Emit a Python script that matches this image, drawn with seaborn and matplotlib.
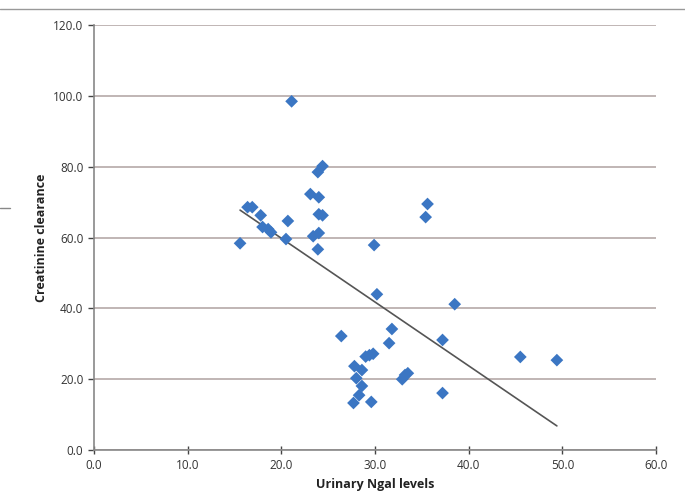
import matplotlib
matplotlib.use("Agg")
import matplotlib.pyplot as plt
import matplotlib.lines as mlines
import seaborn as sns
import pandas as pd

ngal = [15.6, 16.4, 16.9, 17.8, 18.0, 18.6, 18.9, 20.7, 20.5, 21.1,
        23.1, 24.0, 23.9, 24.4, 24.0, 24.4, 23.4, 24.0, 23.9,
        29.9, 35.6, 35.4, 30.2, 38.5, 31.8, 31.5, 37.2, 45.5, 49.4, 37.2,
        26.4, 29.0, 29.4, 29.8, 27.8, 28.6, 28.0, 28.6, 28.3, 27.7, 29.6,
        32.9, 33.2, 33.5]
clearance = [58.4, 68.6, 68.6, 66.3, 63.0, 62.4, 61.5, 64.7, 59.6, 98.5,
             72.3, 71.4, 78.5, 80.2, 66.6, 66.3, 60.4, 61.3, 56.7,
             57.9, 69.5, 65.8, 44.0, 41.2, 34.2, 30.2, 31.1, 26.3, 25.4, 16.1,
             32.2, 26.4, 26.8, 27.2, 23.7, 22.6, 20.3, 18.1, 15.5, 13.3, 13.6,
             20.0, 21.2, 21.7]

df = pd.DataFrame({"ngal": ngal, "clearance": clearance})

sns.set_style("white")
plt.rcParams['font.family'] = ['Open Sans', 'DejaVu Sans']

fig = plt.figure(figsize=(6.85, 5.04), dpi=100)
ax = fig.add_axes([0.137, 0.107, 0.821, 0.843])

sns.regplot(data=df, x="ngal", y="clearance", ax=ax, ci=None, truncate=True,
            marker="D",
            scatter_kws=dict(s=42, color="#3b76c3", edgecolors="none", alpha=1, zorder=3),
            line_kws=dict(color="#555555", lw=1.2, zorder=2))

ax.set_xlim(0, 60)
ax.set_ylim(0, 120)
ax.set_xticks(range(0, 61, 10))
ax.set_yticks(range(0, 121, 20))
ax.set_xticklabels([f"{v:.1f}" for v in range(0, 61, 10)])
ax.set_yticklabels([f"{v:.1f}" for v in range(0, 121, 20)])
ax.yaxis.grid(True, color="#b5a9a8", lw=1.2)
ax.set_axisbelow(True)
for s in ["top", "right"]:
    ax.spines[s].set_visible(False)
for s in ["left", "bottom"]:
    ax.spines[s].set_color("#888888")
    ax.spines[s].set_linewidth(1.2)
ax.tick_params(axis="both", labelsize=8.5, colors="#444444", length=4,
               width=1, direction="out", bottom=True, left=True)
ax.tick_params(axis="x", direction="inout", length=6)
for lbl in ax.get_xticklabels() + ax.get_yticklabels():
    lbl.set_color("#333333")

ax.set_xlabel("Urinary Ngal levels", fontsize=9, fontweight="bold", color="#222222")
ax.set_ylabel("Creatinine clearance", fontsize=9, fontweight="bold", color="#222222")

# page artifacts
fig.add_artist(mlines.Line2D([0, 1], [1 - 9 / 504, 1 - 9 / 504],
                             transform=fig.transFigure, color="#999999", lw=1))
fig.add_artist(mlines.Line2D([0, 10 / 685], [1 - 208 / 504, 1 - 208 / 504],
                             transform=fig.transFigure, color="#888888", lw=1))

fig.savefig("out.png", dpi=100)
